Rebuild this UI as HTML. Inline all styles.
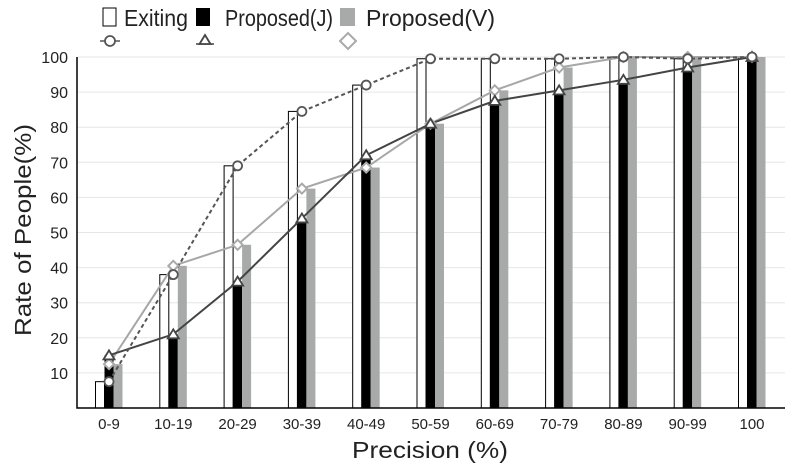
<!DOCTYPE html>
<html><head><meta charset="utf-8"><style>
body{margin:0;background:#fff;}
svg{display:block;font-family:"Liberation Sans",sans-serif;}
</style></head><body>
<svg id="chart" width="785" height="467"></svg>
<script>
const categories=["0-9","10-19","20-29","30-39","40-49","50-59","60-69","70-79","80-89","90-99","100"];
const exiting=[7.5,38,69,84.5,92,99.5,99.5,99.5,100,99.5,100];
const propJ=[15,21,36,54,72,81,87.5,90.5,93.5,97,100];
const propV=[12.5,40.5,46.5,62.5,68.5,81,90.5,97,100,100,100];
const yTicks=[10,20,30,40,50,60,70,80,90,100];
const NS="http://www.w3.org/2000/svg";
const svg=document.getElementById('chart');
function el(t,a,p){const e=document.createElementNS(NS,t);for(const k in a)e.setAttribute(k,a[k]);(p||svg).appendChild(e);return e;}
const x0=109,dx=64.3;
function X(i){return x0+i*dx;}
function Y(v){return 408-v*3.51;}
yTicks.forEach(v=>{
 const g=el('line',{x1:77,x2:785,y1:Y(v),y2:Y(v),stroke:'#e6e6e6','stroke-width':1});
 
 const t=el('text',{x:68,y:Y(v)+6,'text-anchor':'end','font-size':16,fill:'#222'});t.textContent=v;
 
});
const bw=9;
categories.forEach((c,i)=>{
 const cx=X(i);
 const b1=el('rect',{x:cx-13.5,y:Y(exiting[i]),width:bw,height:408-Y(exiting[i]),fill:'#fff',stroke:'#000','stroke-width':1});
 
 const b2=el('rect',{x:cx-4.5,y:Y(propJ[i]),width:bw,height:408-Y(propJ[i]),fill:'#000'});
 
 const b3=el('rect',{x:cx+4.5,y:Y(propV[i]),width:bw,height:408-Y(propV[i]),fill:'#a7aaa9'});
 
 const t=el('text',{x:cx,y:429,'text-anchor':'middle','font-size':15,fill:'#222'});t.textContent=c;
 
});
const ax=el('path',{d:'M77,57 V408 H785',fill:'none',stroke:'#000','stroke-width':1.5});

function pts(arr){return arr.map((v,i)=>X(i)+','+Y(v)).join(' ');}
const lV=el('polyline',{points:pts(propV),fill:'none',stroke:'#a7a7a7','stroke-width':2});

const lJ=el('polyline',{points:pts(propJ),fill:'none',stroke:'#444','stroke-width':2});

const lE=el('polyline',{points:pts(exiting),fill:'none',stroke:'#555','stroke-width':2,'stroke-dasharray':'4,3'});

function diamond(x,y,r,p){return el('path',{d:`M${x},${y-r} L${x+r},${y} L${x},${y+r} L${x-r},${y} Z`,fill:'#fff',stroke:'#aaa','stroke-width':2},p);}
function tri(x,y,p){return el('path',{d:`M${x},${y-5} L${x+5.5},${y+4} L${x-5.5},${y+4} Z`,fill:'#fff',stroke:'#444','stroke-width':1.8},p);}
propV.forEach((v,i)=>{const m=diamond(X(i),Y(v),5);});
propJ.forEach((v,i)=>{const m=tri(X(i),Y(v));});
exiting.forEach((v,i)=>{const m=el('circle',{cx:X(i),cy:Y(v),r:4.5,fill:'#fff',stroke:'#555','stroke-width':1.8});});
const xt=el('text',{x:352,y:458,'font-size':23,fill:'#222',textLength:156,lengthAdjust:'spacingAndGlyphs'});xt.textContent='Precision (%)';

const yt=el('text',{x:0,y:0,'text-anchor':'middle','font-size':23,fill:'#222',textLength:212,lengthAdjust:'spacingAndGlyphs',transform:'translate(31,230) rotate(-90)'});yt.textContent='Rate of People(%)';

const lg=el('g',{});
el('rect',{x:103,y:8,width:13,height:18,fill:'#fff',stroke:'#000','stroke-width':1},lg);
el('rect',{x:196,y:8,width:14,height:18,fill:'#000'},lg);
el('rect',{x:340,y:8,width:15,height:18,fill:'#a7aaa9'},lg);
[['Exiting',124,64],['Proposed(J)',225,108],['Proposed(V)',366,129]].forEach(([s,x,w])=>{const t=el('text',{x:x,y:26,'font-size':23,fill:'#222',textLength:w,lengthAdjust:'spacingAndGlyphs'},lg);t.textContent=s;});
el('line',{x1:100,x2:120,y1:41,y2:41,stroke:'#555','stroke-width':1.5},lg);
el('circle',{cx:110,cy:41,r:5,fill:'#fff',stroke:'#555','stroke-width':1.8},lg);
el('line',{x1:196,x2:214,y1:44,y2:44,stroke:'#444','stroke-width':1.5},lg);
tri(205,40,lg);
diamond(348,41,8,lg);
</script>
</body></html>
